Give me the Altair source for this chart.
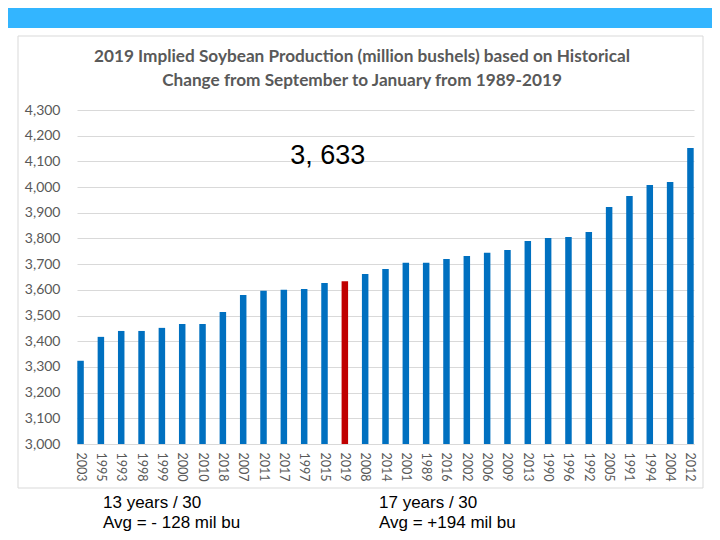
import altair as alt
import pandas as pd

years = ["2003", "1995", "1993", "1998", "1999", "2000", "2010", "2018", "2007", "2011",
         "2017", "1997", "2015", "2019", "2008", "2014", "2001", "1989", "2016", "2002",
         "2006", "2009", "2013", "1990", "1996", "1992", "2005", "1991", "1994", "2004", "2012"]
production = [3324, 3417, 3440, 3440, 3452, 3467, 3467, 3514, 3580, 3596,
              3600, 3603, 3627, 3633, 3662, 3681, 3705, 3705, 3720, 3732,
              3744, 3755, 3790, 3802, 3806, 3825, 3922, 3965, 4008, 4020, 4152]
highlight_year = "2019"
y_ticks = list(range(3000, 4301, 100))
title_lines = ["2019 Implied Soybean Production (million bushels) based on Historical",
               "Change from September to January from 1989-2019"]
note_left = ["13 years / 30", "Avg = - 128 mil bu"]
note_right = ["17 years / 30", "Avg = +194 mil bu"]
annotation = "3, 633"

df = pd.DataFrame({"year": years, "value": production})

W, H = 617, 334
yscale = alt.Scale(domain=[3000, 4300], nice=False, zero=False)
xscale = alt.Scale(paddingInner=0.65, paddingOuter=0)
xaxis = alt.Axis(labelAngle=90, labelFont="Lato", labelFontSize=12.5,
                 labelColor="#595959", labelPadding=8, ticks=False,
                 domainColor="#d9d9d9", labelBaseline="middle", labelAlign="left")
yaxis = alt.Axis(values=y_ticks, labelExpr="format(datum.value, ',')", labelFont="Lato",
                 labelFontSize=14, labelColor="#595959", labelPadding=17,
                 ticks=False, domain=False, gridColor="#d9d9d9")

bars = alt.Chart(df).mark_bar(width=6.5).encode(
    x=alt.X("year:N", sort=None, title=None, scale=xscale, axis=xaxis),
    y=alt.Y("value:Q", title=None, scale=yscale, axis=yaxis),
    y2=alt.datum(3000),
    color=alt.condition(alt.datum.year == highlight_year, alt.value("#C00000"), alt.value("#0070C0")),
)

banner = alt.Chart(pd.DataFrame({"a": [0]})).mark_rect(color="#33B5FF").encode(
    x=alt.value(-69), x2=alt.value(W + 18), y=alt.value(-102), y2=alt.value(-82))

frame = alt.Chart(pd.DataFrame({"a": [0]})).mark_rect(
    filled=False, stroke="#d9d9d9", strokeWidth=1).encode(
    x=alt.value(-59), x2=alt.value(626), y=alt.value(-74), y2=alt.value(378))

def text_layer(txt, x, y, size, font="Liberation Sans", weight="normal", align="left", color="black"):
    return alt.Chart(pd.DataFrame({"t": [txt]})).mark_text(
        align=align, baseline="middle", fontSize=size, font=font, fontWeight=weight, color=color
    ).encode(text="t:N", x=alt.value(x), y=alt.value(y))

title1 = text_layer(title_lines[0], 285, -53, 17.2, font="Lato", weight="bold",
                    align="center", color="#595959")
title2 = text_layer(title_lines[1], 285, -29, 17.2, font="Lato", weight="bold",
                    align="center", color="#595959")

ann = alt.Chart(pd.DataFrame({"year": [highlight_year], "value": [4120], "t": [annotation]})).mark_text(
    fontSize=27, font="Liberation Sans", color="black", dx=-17, baseline="middle"
).encode(x=alt.X("year:N", sort=None, title=None, scale=xscale, axis=xaxis),
         y=alt.Y("value:Q", title=None, scale=yscale, axis=yaxis), text="t:N")

notes = [
    text_layer(note_left[0], 26, 393, 17),
    text_layer(note_left[1], 26, 413, 17),
    text_layer(note_right[0], 302, 393, 17),
    text_layer(note_right[1], 302, 413, 17),
]

chart = alt.layer(banner, frame, bars, ann, title1, title2, *notes).properties(
    width=W, height=H,
    autosize=alt.AutoSizeParams(type="none"),
    padding={"left": 69, "top": 102, "right": 18, "bottom": 88},
    background="white",
).configure_view(stroke=None)

chart.save("out.html", embed_options={"renderer": "svg", "actions": False})
